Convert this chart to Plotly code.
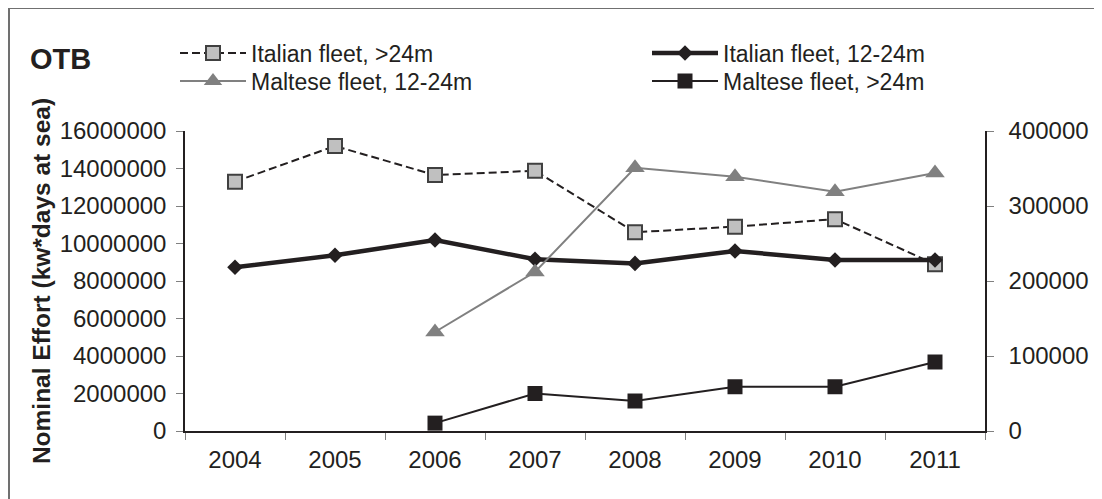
import plotly.graph_objects as go

years = ['2004', '2005', '2006', '2007', '2008', '2009', '2010', '2011']

# left axis (kW*days at sea)
italian_over24 = [13300000, 15200000, 13650000, 13880000, 10600000, 10900000, 11300000, 8900000]
italian_12_24 = [8730000, 9370000, 10190000, 9160000, 8940000, 9600000, 9120000, 9120000]

# right axis
maltese_12_24 = [None, None, 132000, 212000, 351000, 339000, 319000, 344000]
maltese_over24 = [None, None, 10500, 50000, 40000, 59000, 59000, 92000]

FONT = 'Liberation Sans, Arial, sans-serif'
INK = '#231f20'

fig = go.Figure()

fig.add_trace(go.Scatter(
    x=years, y=italian_over24, name='Italian fleet, >24m',
    mode='lines+markers', legend='legend',
    line=dict(color=INK, width=2, dash='8px,4px'),
    marker=dict(symbol='square', size=14, color='#c0c0c0',
                line=dict(color='#404040', width=2)),
))
fig.add_trace(go.Scatter(
    x=years, y=italian_12_24, name='Italian fleet, 12-24m',
    mode='lines+markers', legend='legend2',
    line=dict(color=INK, width=4.5),
    marker=dict(symbol='diamond', size=12, color=INK),
))
fig.add_trace(go.Scatter(
    x=years, y=maltese_12_24, name='Maltese fleet, 12-24m',
    mode='lines+markers', yaxis='y2', legend='legend3',
    line=dict(color='#808080', width=2),
    marker=dict(symbol='triangle-up', size=17, color='#808080'),
))
fig.add_trace(go.Scatter(
    x=years, y=maltese_over24, name='Maltese fleet, >24m',
    mode='lines+markers', yaxis='y2', legend='legend4',
    line=dict(color=INK, width=2),
    marker=dict(symbol='square', size=15, color=INK),
))

leg = dict(xanchor='left', yanchor='middle', itemwidth=66,
           font=dict(size=23, color=INK), bgcolor='rgba(0,0,0,0)')

fig.update_layout(
    width=1102, height=499,
    margin=dict(l=177, r=125, t=123, b=76),
    paper_bgcolor='white', plot_bgcolor='white',
    font=dict(family=FONT, size=24, color=INK),
    showlegend=True,
    legend=dict(leg, x=-0.0125, y=1.26),
    legend2=dict(leg, x=0.5775, y=1.26),
    legend3=dict(leg, x=-0.0125, y=1.1667),
    legend4=dict(leg, x=0.5775, y=1.1667),
    xaxis=dict(
        type='category', tickson='boundaries',
        showline=True, linecolor=INK, linewidth=1.5,
        ticks='outside', ticklen=7, tickcolor='#808080',
        ticklabelstandoff=6, showgrid=False, zeroline=False,
        range=[-0.5, 7.5],
    ),
    yaxis=dict(
        range=[0, 16000000], dtick=2000000, tickformat='d',
        showline=True, linecolor=INK, linewidth=1.5,
        ticks='outside', ticklen=7, tickcolor='#808080',
        ticklabelstandoff=5, showgrid=False, zeroline=False,
        title=dict(text='<b>Nominal Effort (kw*days at sea)</b>',
                   font=dict(size=24.5), standoff=2),
    ),
    yaxis2=dict(
        range=[0, 400000], dtick=100000, tickformat='d',
        overlaying='y', side='right',
        showline=True, linecolor=INK, linewidth=1.5,
        ticks='outside', ticklen=7, tickcolor='#808080',
        ticklabelstandoff=10, showgrid=False, zeroline=False,
    ),
    annotations=[dict(
        text='<b>OTB</b>', xref='paper', yref='paper',
        x=-0.196, y=1.24, xanchor='left', yanchor='middle',
        showarrow=False, font=dict(size=29, color=INK),
    )],
    shapes=[
        dict(type='line', xref='paper', yref='paper',
             x0=-0.22, x1=1.2, y0=1.41, y1=1.41,
             line=dict(color='#707070', width=2)),
        dict(type='line', xref='paper', yref='paper',
             x0=-0.22, x1=-0.22, y0=1.41, y1=-0.3,
             line=dict(color='#707070', width=2)),
    ],
)

fig.write_html('out.html')
